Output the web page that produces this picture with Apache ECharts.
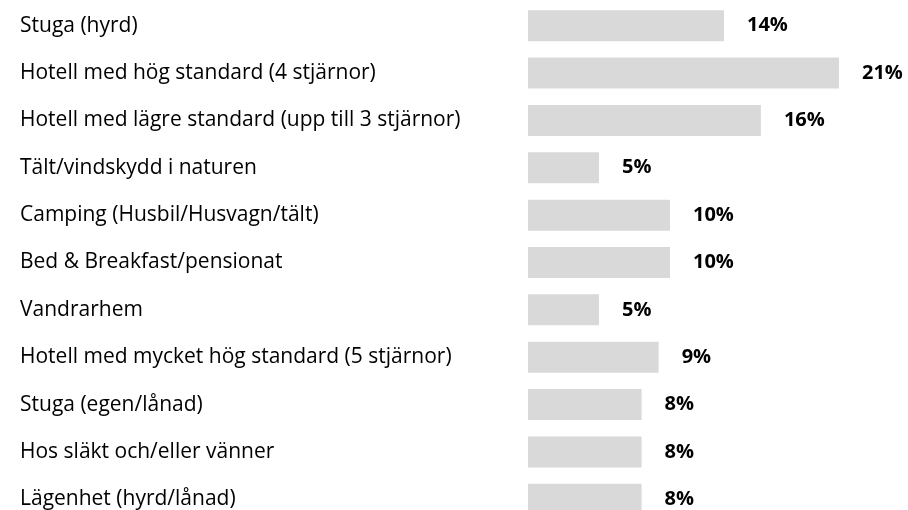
<!DOCTYPE html>
<html>
<head>
<meta charset="utf-8">
<style>
  html, body { margin: 0; padding: 0; background: #fff; }
  #main { width: 908px; height: 510px; }
</style>
<script src="https://cdn.jsdelivr.net/npm/echarts@6/dist/echarts.min.js"></script>
</head>
<body>
<div id="main"></div>
<script>
var categories = [
  'Stuga (hyrd)',
  'Hotell med hög standard (4 stjärnor)',
  'Hotell med lägre standard (upp till 3 stjärnor)',
  'Tält/vindskydd i naturen',
  'Camping (Husbil/Husvagn/tält)',
  'Bed & Breakfast/pensionat',
  'Vandrarhem',
  'Hotell med mycket hög standard (5 stjärnor)',
  'Stuga (egen/lånad)',
  'Hos släkt och/eller vänner',
  'Lägenhet (hyrd/lånad)'
]
// bar lengths
var values = [13.8, 21.9, 16.4, 5.0, 10.0, 10.0, 5.0, 9.2, 8.0, 8.0, 8.0]
// printed value labels
var valueLabels = ['14%', '21%', '16%', '5%', '10%', '10%', '5%', '9%', '8%', '8%', '8%']

var chart = echarts.init(document.getElementById('main'))

var option = {
  animation: false,
  grid: { left: 528, top: 2, right: 25, height: 521, outerBoundsMode: 'none' },
  xAxis: {
    type: 'value',
    min: 0,
    max: 25,
    show: false
  },
  yAxis: {
    type: 'category',
    data: categories,
    inverse: true,
    axisLine: { show: false },
    axisTick: { show: false },
    axisLabel: {
      align: 'left',
      margin: 508,
      color: '#000',
      fontFamily: 'Open Sans',
      fontSize: 21
    }
  },
  series: [
    {
      type: 'bar',
      data: values,
      barWidth: 31,
      itemStyle: { color: '#d9d9d9' },
      label: {
        show: true,
        position: 'right',
        distance: 23,
        color: '#000',
        fontFamily: 'Open Sans',
        fontWeight: 'bold',
        fontSize: 20,
        formatter: function (p) { return valueLabels[p.dataIndex] }
      }
    }
  ]
}

chart.setOption(option)
</script>
</body>
</html>
